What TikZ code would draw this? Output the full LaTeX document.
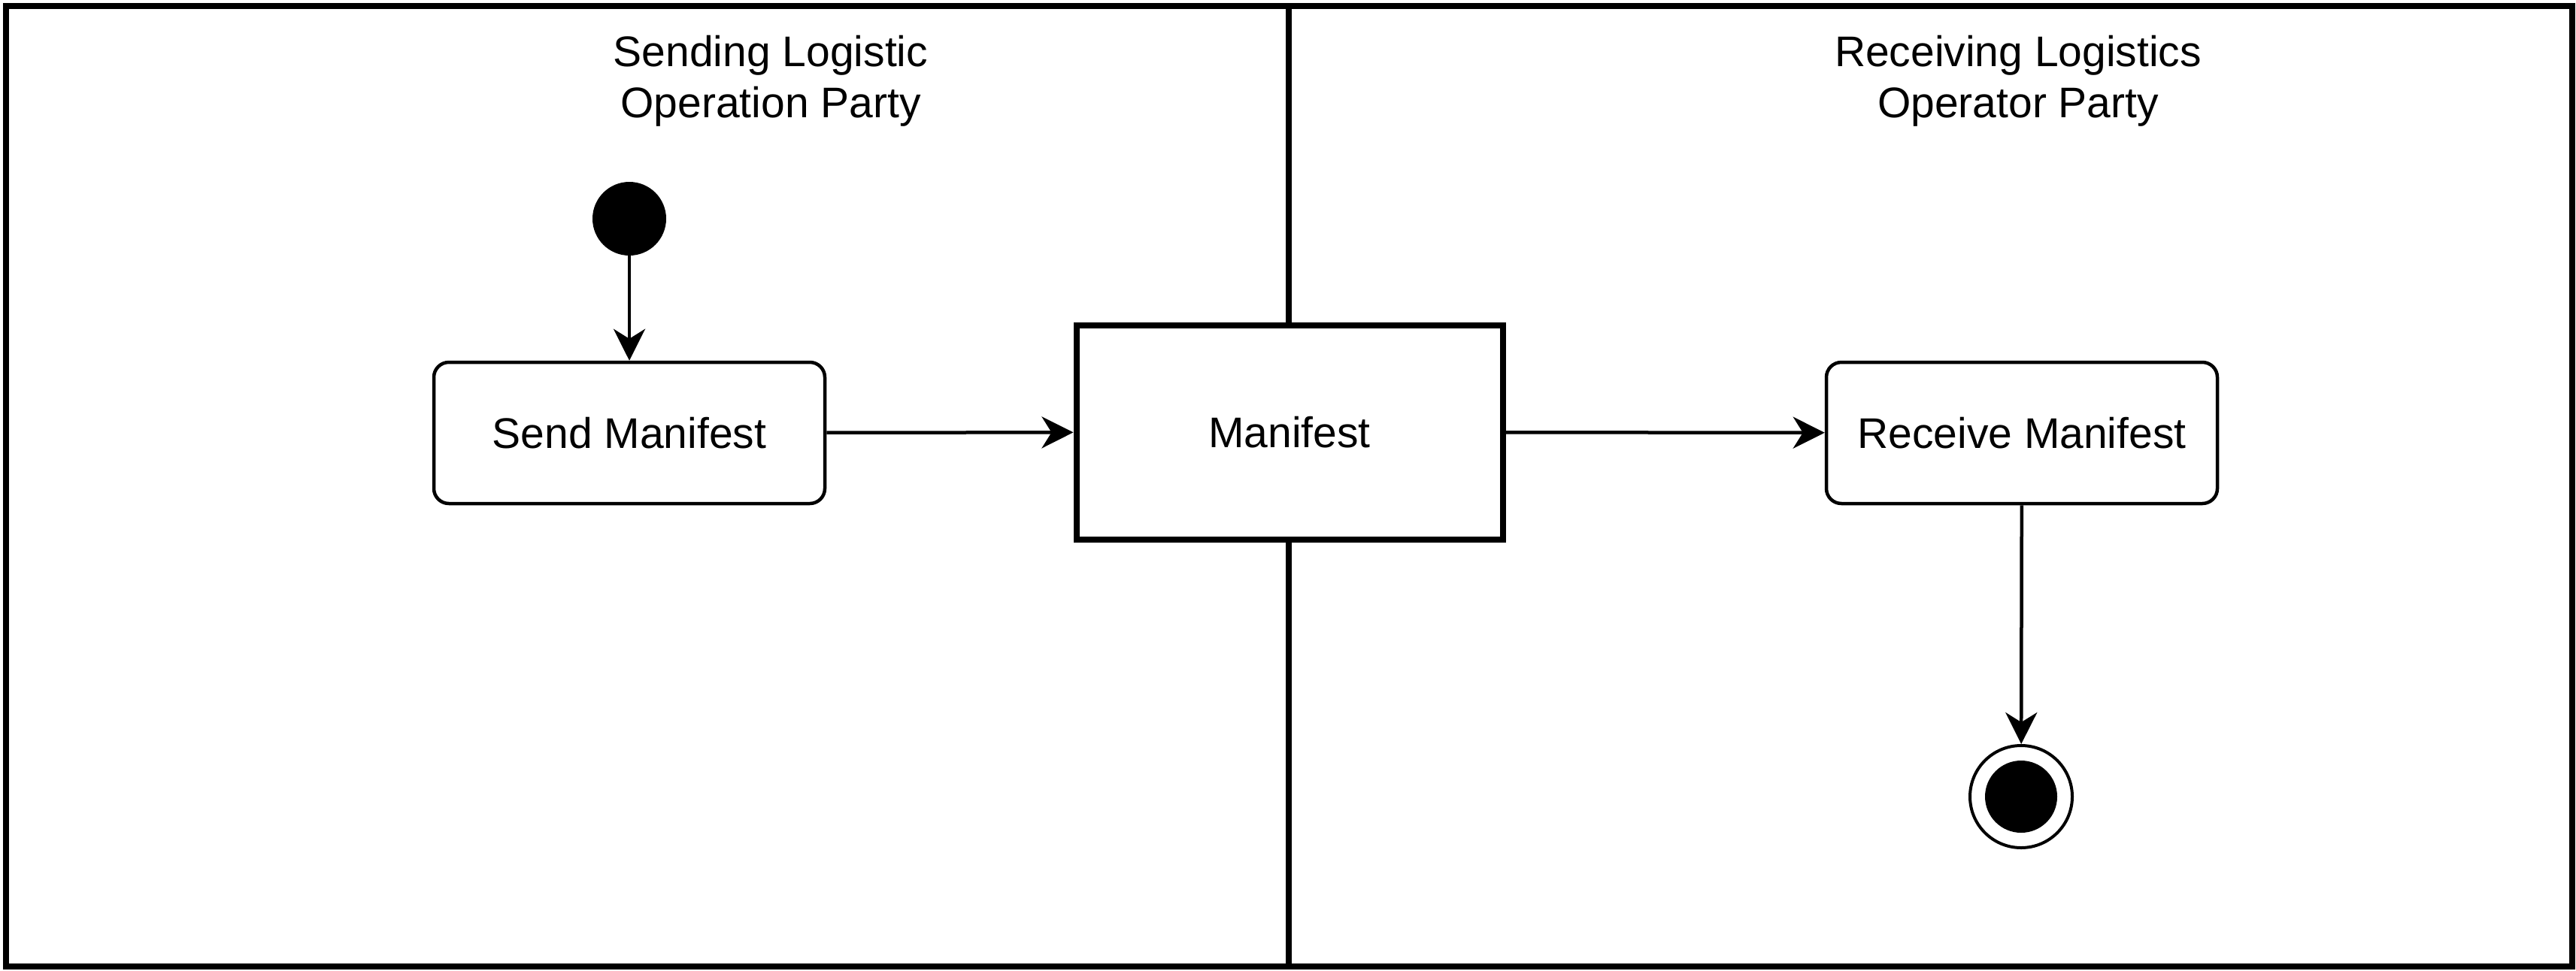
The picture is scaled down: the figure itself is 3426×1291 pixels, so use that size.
\documentclass[tikz,border=0pt]{standalone}
\usepackage{fontspec}
\setmainfont{Liberation Sans}
\usetikzlibrary{arrows.meta,shapes.geometric}
\begin{document}
\begin{tikzpicture}[x=1pt,y=-1pt,
  every node/.style={font=\fontsize{57}{68}\selectfont},
  action/.style={draw, rounded corners=20pt, line width=4.5pt, minimum width=520pt, minimum height=188pt, inner sep=0pt},
  object/.style={draw, line width=8pt, fill=white, minimum width=567pt, minimum height=285pt, inner sep=0pt},
  flow/.style={line width=4.5pt, -{Stealth[length=42pt,width=42pt,inset=13pt]}},
  title/.style={align=center, inner sep=0pt},
  initial/.style={circle, fill=black, minimum size=98pt, inner sep=0pt},
  finalring/.style={circle, draw, line width=4pt, minimum size=136pt, inner sep=0pt},
  finaldot/.style={circle, fill=black, minimum size=96pt, inner sep=0pt}
]
\useasboundingbox (0,0) rectangle (3426,1291);
\draw[line width=8pt] (8,8) rectangle (3421,1286);
\coordinate (dtop) at (1714,8);
\coordinate (dbot) at (1714,1286);
\draw[line width=7.5pt] (dtop) -- (dbot);
\node[title] (t1) at (1025,108) {Sending Logistic\\Operation Party};
\node[title] (t2) at (2684,108) {Receiving Logistics\\Operator Party};
\node[initial] (init) at (837,291) {};
\node[action] (send) at (837,576) {Send Manifest};
\node[object] (man) at (1715,575) {Manifest};
\node[action] (recv) at (2689,576) {Receive Manifest};
\node[finalring] (final) at (2688,1060) {};
\node[finaldot] (finalin) at (final.center) {};
\draw[flow] (init) -- (send);
\draw[flow] (send) -- (man);
\draw[flow] (man) -- (recv);
\draw[flow] (recv) -- (final);
\end{tikzpicture}
\end{document}
